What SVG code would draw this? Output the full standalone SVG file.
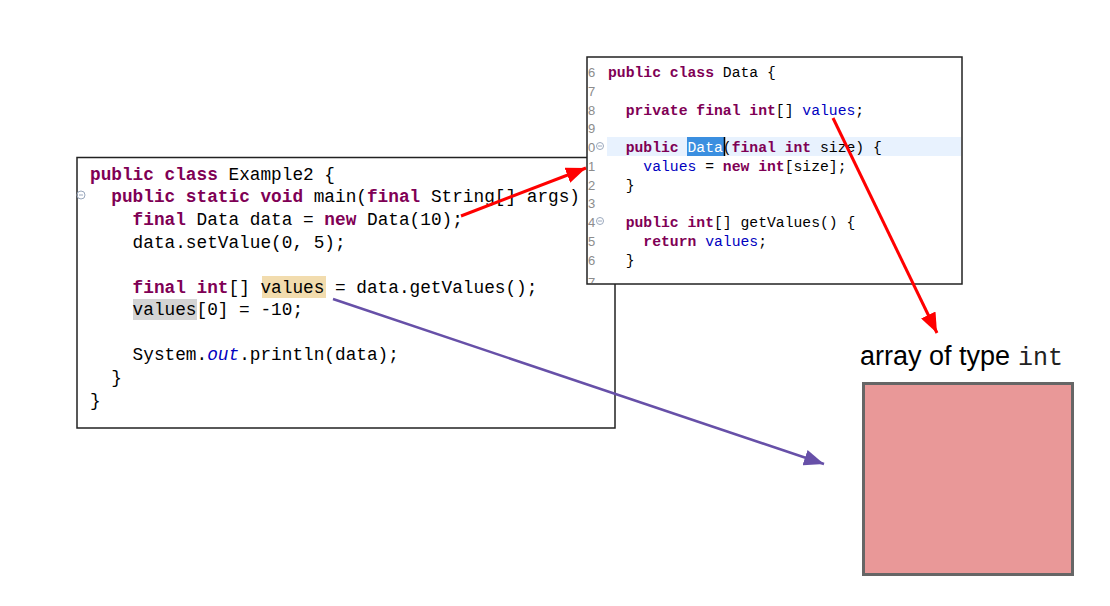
<svg xmlns="http://www.w3.org/2000/svg" width="1110" height="606" viewBox="0 0 1110 606">
<style>
.c1{font-family:"Liberation Mono",monospace;font-size:17.75px;fill:#000;white-space:pre}
.c2{font-family:"Liberation Mono",monospace;font-size:14.73px;fill:#000;white-space:pre}
.k{font-weight:bold;fill:#7f0055}
.f{fill:#0000c0}
.ln{font-family:"Liberation Sans",Arial,sans-serif;font-size:13px;fill:#8c8c8c}
.box{fill:#fff;stroke:#222;stroke-width:1.5}
.fold{fill:none;stroke:#9aa8bd;stroke-width:1}
</style>
<defs>
<marker id="ar" markerUnits="userSpaceOnUse" markerWidth="22" markerHeight="16" refX="20" refY="8" orient="auto">
<path d="M0,0 L20,8 L0,16 z" fill="#ff0000"/>
</marker>
<marker id="ap" markerUnits="userSpaceOnUse" markerWidth="22" markerHeight="16" refX="20" refY="8" orient="auto">
<path d="M0,0 L20,8 L0,16 z" fill="#6750a8"/>
</marker>
<clipPath id="clipD"><rect x="588" y="58" width="373" height="225"/></clipPath>
</defs>

<g id="example2">
<rect class="box" x="77" y="157.5" width="538" height="270.5"/>
<rect x="262" y="276" width="64" height="22" fill="#f2dcae"/>
<rect x="133" y="299" width="64" height="21" fill="#d4d4d4"/>
<g class="fold"><circle cx="81" cy="195" r="4"/><line x1="79" y1="195" x2="83" y2="195"/></g>
<text class="c1" x="90" y="180"><tspan class="k">public class</tspan> Example2 {</text>
<text class="c1" x="90" y="202">  <tspan class="k">public static void</tspan> main(<tspan class="k">final</tspan> String[] args)</text>
<text class="c1" x="90" y="225">    <tspan class="k">final</tspan> Data data = <tspan class="k">new</tspan> Data(10);</text>
<text class="c1" x="90" y="248">    data.setValue(0, 5);</text>
<text class="c1" x="90" y="293">    <tspan class="k">final int</tspan>[] values = data.getValues();</text>
<text class="c1" x="90" y="315">    values[0] = -10;</text>
<text class="c1" x="90" y="360">    System.<tspan class="f" font-style="italic">out</tspan>.println(data);</text>
<text class="c1" x="90" y="383">  }</text>
<text class="c1" x="90" y="406">}</text>
</g>

<g id="data">
<rect class="box" x="587" y="57" width="375" height="227"/>
<g clip-path="url(#clipD)">
<rect x="607" y="137" width="354" height="19" fill="#e8f2fe"/>
<rect x="687" y="137" width="37" height="19" fill="#3b8fe0"/>
<line x1="724.5" y1="137" x2="724.5" y2="156" stroke="#000" stroke-width="1.5"/>
<g class="ln">
<text x="588" y="77">6</text>
<text x="588" y="96">7</text>
<text x="588" y="115">8</text>
<text x="588" y="133">9</text>
<text x="588" y="152">0</text>
<text x="588" y="171">1</text>
<text x="588" y="190">2</text>
<text x="588" y="208">3</text>
<text x="588" y="227">4</text>
<text x="588" y="246">5</text>
<text x="588" y="265">6</text>
<text x="588" y="287">7</text>
</g>
<g class="fold"><circle cx="600" cy="146" r="3.5"/><line x1="598" y1="146" x2="602" y2="146"/><circle cx="600" cy="221" r="3.5"/><line x1="598" y1="221" x2="602" y2="221"/></g>
<text class="c2" x="608" y="77"><tspan class="k">public class</tspan> Data {</text>
<text class="c2" x="608" y="115">  <tspan class="k">private final int</tspan>[] <tspan class="f">values</tspan>;</text>
<text class="c2" x="608" y="152">  <tspan class="k">public</tspan> <tspan fill="#fff">Data</tspan>(<tspan class="k">final int</tspan> size) {</text>
<text class="c2" x="608" y="171">    <tspan class="f">values</tspan> = <tspan class="k">new int</tspan>[size];</text>
<text class="c2" x="608" y="190">  }</text>
<text class="c2" x="608" y="227">  <tspan class="k">public int</tspan>[] getValues() {</text>
<text class="c2" x="608" y="246">    <tspan class="k">return</tspan> <tspan class="f">values</tspan>;</text>
<text class="c2" x="608" y="265">  }</text>
</g>
</g>

<g id="array">
<text x="860" y="365" font-family="'Liberation Sans',Arial,sans-serif" font-size="27px" fill="#000">array of type <tspan x="1018" font-family="'Liberation Mono',monospace" font-size="25px" fill="#222">int</tspan></text>
<rect x="863.5" y="383.5" width="209" height="191" fill="#e99898" stroke="#666" stroke-width="3"/>
</g>

<g id="connectors">
<line x1="461" y1="216" x2="586" y2="168" stroke="#ff0000" stroke-width="3" marker-end="url(#ar)"/>
<line x1="833" y1="118" x2="937" y2="333" stroke="#ff0000" stroke-width="3" marker-end="url(#ar)"/>
<line x1="333" y1="299" x2="824" y2="464" stroke="#6750a8" stroke-width="2.5" marker-end="url(#ap)"/>
</g>
</svg>
